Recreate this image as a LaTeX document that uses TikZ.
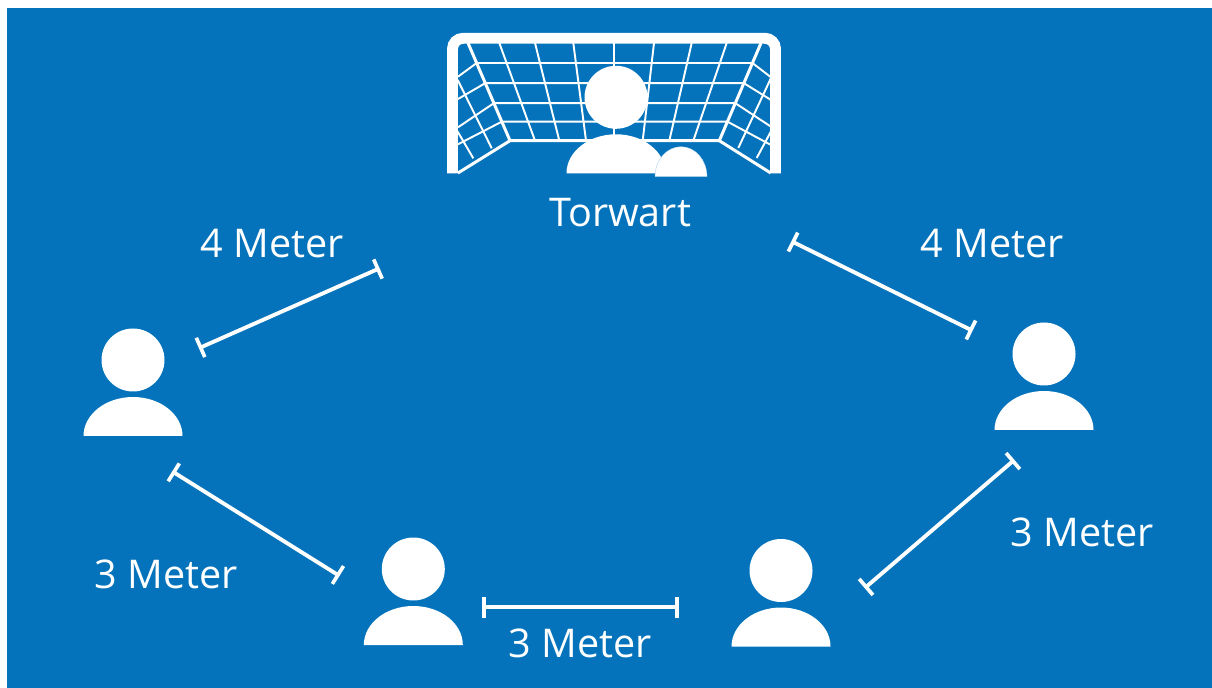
\documentclass[tikz,border=0pt]{standalone}
\usepackage{fontspec}
\setmainfont{Open Sans}
\usetikzlibrary{arrows.meta,calc}
\definecolor{goalblue}{HTML}{0473BB}
\tikzset{
  gap/.style={white,line width=2.2pt,shorten <=-1pt,shorten >=-1pt,{Bar[width=12pt,line width=2.1pt]}-{Bar[width=12pt,line width=2.1pt]}},
  dist/.style={white,font=\fontsize{22.5}{26}\selectfont},
  netline/.style={white,line width=1.1pt},
  netedge/.style={white,line width=1.7pt}
}
\begin{document}
\begin{tikzpicture}[x=0.02cm,y=-0.02cm]
\useasboundingbox (0,0) rectangle (1212,688);
\fill[goalblue] (7,8) rectangle (1212,688);
% goal
\coordinate (tl) at (468,43);
\coordinate (tr) at (761,43);
\coordinate (bl) at (510,140.7);
\coordinate (br) at (719.3,140.7);
\coordinate (fl) at (458,173);
\coordinate (fr) at (770.7,173);
\foreach \a/\b in {499.3/535,535/559.3,573.3/586,614.3/614.3,654/642.7,691.7/669.3,726.7/693.3}
  \draw[netline] (\a,43) -- (\b,140.7);
\foreach \f/\l/\r in {.205/76.7/77.3,.411/99/100,.616/127.3/126.7,.805/144.3/145}
  \draw[netline] (458,\l) -- ($(tl)!\f!(bl)$) -- ($(tr)!\f!(br)$) -- (771,\r);
\draw[netline] (457.7,80) -- (491.7,148.3);
\draw[netline] (457.7,131.7) -- (473.3,158.3);
\draw[netline] (771,78) -- (738.3,148);
\draw[netline] (771.7,130) -- (756.7,158);
\draw[netedge] (tl) -- (bl) -- (br) -- (tr);
\draw[netedge] (fl) -- (bl);
\draw[netedge] (fr) -- (br);
\draw[white,line width=6.2pt,rounded corners=6pt] (452.5,173.3) -- (452.5,38.3) -- (775.5,38.3) -- (775.5,173.3);
% players
\foreach \x/\y in {133/436,1044/430,413.3/645,781/646.5,616/173.3}{
  \fill[white] (\x,\y-76) circle[radius=31.5];
  \fill[white] (\x-49.5,\y) arc[start angle=180,end angle=360,x radius=49.5,y radius=39] -- cycle;
}
% ball
\fill[white,draw=goalblue!35!white,line width=.2pt] (655,176.7) arc[start angle=180,end angle=360,x radius=26,y radius=30] -- cycle;
\node[dist] (keeper) at (620,213) {Torwart};
% distances
\coordinate (a1) at (200.5,347.5);
\coordinate (a2) at (378,269);
\coordinate (b1) at (173.7,472.3);
\coordinate (b2) at (338,575);
\coordinate (c1) at (484,607.3);
\coordinate (c2) at (677,607.3);
\coordinate (d1) at (866,587);
\coordinate (d2) at (1013,461);
\coordinate (e1) at (793,242);
\coordinate (e2) at (971,330);
\draw[gap] (a1) -- (a2);
\draw[gap] (b1) -- (b2);
\draw[gap] (c1) -- (c2);
\draw[gap] (d1) -- (d2);
\draw[gap] (e1) -- (e2);
\node[dist] (lefttop) at (272,244) {4 Meter};
\node[dist] (righttop) at (992,244) {4 Meter};
\node[dist] (leftlow) at (166,574) {3 Meter};
\node[dist] (rightlow) at (1082,532) {3 Meter};
\node[dist] (bottom) at (580,643) {3 Meter};
\end{tikzpicture}
\end{document}
